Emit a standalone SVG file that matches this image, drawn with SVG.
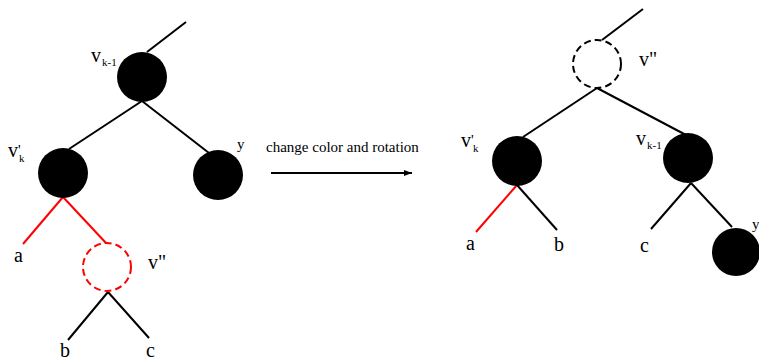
<svg xmlns="http://www.w3.org/2000/svg" width="759" height="362" viewBox="0 0 759 362">
<style>
.e{stroke:#000;stroke-width:2;fill:none}
.r{stroke:#f00;stroke-width:2;fill:none}
.n{fill:#000}
.d{fill:none;stroke:#000;stroke-width:2;stroke-dasharray:7 4}
.dr{fill:none;stroke:#f00;stroke-width:2;stroke-dasharray:7 4}
text{font-family:"Liberation Serif","Times New Roman",serif;fill:#000}
.l{font-size:20px}
.s{font-size:11px}
.p{font-size:15px}
.t{font-size:15px}
</style>
<defs>
<marker id="ah" viewBox="0 0 8 6" refX="8" refY="3" markerWidth="8" markerHeight="6" markerUnits="userSpaceOnUse" orient="auto">
<path d="M0,0 L8,3 L0,6 Z" fill="#000"/>
</marker>
</defs>
<g id="connectors">
<line class="e" x1="147" y1="52" x2="186" y2="22"/>
<line class="e" x1="142" y1="101" x2="69" y2="149"/>
<line class="e" x1="142" y1="101" x2="209" y2="153"/>
<line class="r" x1="63" y1="197" x2="23" y2="244"/>
<line class="r" x1="63" y1="197" x2="106" y2="243"/>
<line class="e" x1="108" y1="292" x2="68" y2="340"/>
<line class="e" x1="108" y1="292" x2="149" y2="338"/>
<line class="e" x1="271" y1="173" x2="412" y2="173" marker-end="url(#ah)"/>
<line class="e" x1="602" y1="40" x2="643" y2="9"/>
<line class="e" x1="597" y1="88" x2="523" y2="137"/>
<line class="e" x1="597" y1="88" x2="686" y2="135"/>
<line class="r" x1="517" y1="185" x2="476" y2="232"/>
<line class="e" x1="517" y1="185" x2="557" y2="230"/>
<line class="e" x1="691" y1="183" x2="651" y2="229"/>
<line class="e" x1="691" y1="183" x2="732" y2="227"/>
</g>
<g id="L_vk1"><circle class="n" cx="142" cy="77" r="25"/><text class="l" x="91" y="62">v</text><text class="s" x="102" y="66">k-1</text></g>
<g id="L_vk"><circle class="n" cx="63" cy="173" r="25"/><text class="l" x="8" y="157">v</text><text class="p" x="18" y="155">'</text><text class="s" x="19" y="162">k</text></g>
<g id="L_y"><circle class="n" cx="218" cy="175" r="25"/><text class="t" x="237" y="149">y</text></g>
<g id="L_vpp"><circle class="dr" cx="107" cy="267" r="24"/><text class="l" x="148" y="269">v"</text></g>
<g id="L_a"><text class="l" x="14" y="262">a</text></g>
<g id="L_b"><text class="l" x="60" y="357">b</text></g>
<g id="L_c"><text class="l" x="146" y="357">c</text></g>
<g id="label_arrow"><text class="t" x="266" y="152">change color and rotation</text></g>
<g id="R_vpp"><circle class="d" cx="597" cy="64" r="24"/><text class="l" x="639" y="66">v"</text></g>
<g id="R_vk"><circle class="n" cx="517" cy="161" r="25"/><text class="l" x="461" y="147">v</text><text class="p" x="471" y="145">'</text><text class="s" x="473" y="152">k</text></g>
<g id="R_vk1"><circle class="n" cx="688" cy="158" r="25"/><text class="l" x="636" y="145">v</text><text class="s" x="647" y="149">k-1</text></g>
<g id="R_y"><circle class="n" cx="736" cy="252" r="24"/><text class="t" x="752" y="229">y</text></g>
<g id="R_a"><text class="l" x="466" y="250">a</text></g>
<g id="R_b"><text class="l" x="554" y="251">b</text></g>
<g id="R_c"><text class="l" x="640" y="252">c</text></g>
</svg>
